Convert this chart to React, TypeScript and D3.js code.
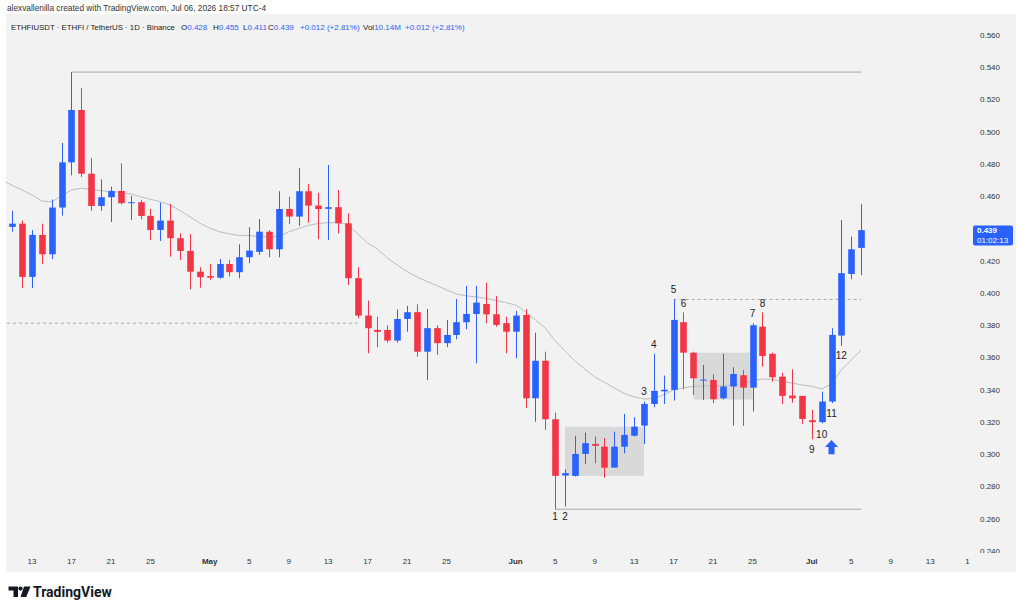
import React from "react";
import * as d3 from "d3";

// daily candles: date, open, high, low, close
const candles: [string, number, number, number, number][] = [
  ["04-11", 0.441, 0.451, 0.438, 0.443],
  ["04-12", 0.443, 0.445, 0.403, 0.41],
  ["04-13", 0.41, 0.439, 0.403, 0.436],
  ["04-14", 0.436, 0.443, 0.418, 0.424],
  ["04-15", 0.424, 0.458, 0.421, 0.453],
  ["04-16", 0.453, 0.493, 0.448, 0.481],
  ["04-17", 0.481, 0.537, 0.473, 0.5135],
  ["04-18", 0.5135, 0.527, 0.472, 0.474],
  ["04-19", 0.474, 0.4836, 0.451, 0.454],
  ["04-20", 0.454, 0.4705, 0.451, 0.4594],
  ["04-21", 0.4594, 0.466, 0.444, 0.4633],
  ["04-22", 0.4633, 0.4804, 0.455, 0.4557],
  ["04-23", 0.4557, 0.4602, 0.4453, 0.4563],
  ["04-24", 0.4563, 0.4577, 0.4457, 0.4478],
  ["04-25", 0.4478, 0.4521, 0.4329, 0.4391],
  ["04-26", 0.4391, 0.456, 0.4323, 0.4449],
  ["04-27", 0.4449, 0.4552, 0.4225, 0.434],
  ["04-28", 0.434, 0.437, 0.4205, 0.4261],
  ["04-29", 0.4261, 0.4364, 0.4023, 0.4132],
  ["04-30", 0.4132, 0.416, 0.4033, 0.4098],
  ["05-01", 0.4105, 0.418, 0.4081, 0.4095],
  ["05-02", 0.4095, 0.421, 0.4088, 0.418],
  ["05-03", 0.418, 0.4205, 0.4102, 0.4129],
  ["05-04", 0.4129, 0.4302, 0.4092, 0.4222],
  ["05-05", 0.4222, 0.4408, 0.4185, 0.4263],
  ["05-06", 0.4255, 0.4459, 0.4236, 0.438],
  ["05-07", 0.438, 0.439, 0.4222, 0.4271],
  ["05-08", 0.4271, 0.4631, 0.4222, 0.4521],
  ["05-09", 0.4521, 0.4597, 0.4428, 0.4474],
  ["05-10", 0.4474, 0.4774, 0.4416, 0.4631],
  ["05-11", 0.4631, 0.4676, 0.4436, 0.4542],
  ["05-12", 0.4542, 0.4622, 0.4333, 0.4521],
  ["05-13", 0.4522, 0.4794, 0.4329, 0.4532],
  ["05-14", 0.4532, 0.4639, 0.437, 0.4432],
  ["05-15", 0.4432, 0.4494, 0.405, 0.4092],
  ["05-16", 0.4092, 0.416, 0.3844, 0.386],
  ["05-17", 0.386, 0.3953, 0.3627, 0.3782],
  ["05-18", 0.3771, 0.3853, 0.3664, 0.3759],
  ["05-19", 0.3771, 0.38, 0.3692, 0.3705],
  ["05-20", 0.3705, 0.3899, 0.3692, 0.3839],
  ["05-21", 0.3839, 0.392, 0.376, 0.3881],
  ["05-22", 0.3881, 0.393, 0.3605, 0.3636],
  ["05-23", 0.3636, 0.3901, 0.346, 0.3782],
  ["05-24", 0.3782, 0.38, 0.3616, 0.3689],
  ["05-25", 0.3689, 0.3833, 0.3664, 0.374],
  ["05-26", 0.374, 0.3963, 0.3713, 0.3819],
  ["05-27", 0.3819, 0.4044, 0.3776, 0.387],
  ["05-28", 0.387, 0.4044, 0.3564, 0.394],
  ["05-29", 0.3932, 0.4064, 0.3813, 0.3868],
  ["05-30", 0.3868, 0.3982, 0.3791, 0.3802],
  ["05-31", 0.3813, 0.3853, 0.3627, 0.376],
  ["06-01", 0.376, 0.3889, 0.3596, 0.386],
  ["06-02", 0.3864, 0.39, 0.3286, 0.3347],
  ["06-03", 0.3347, 0.3754, 0.3202, 0.358],
  ["06-04", 0.358, 0.3636, 0.3151, 0.3217],
  ["06-05", 0.3217, 0.3258, 0.2659, 0.2866],
  ["06-06", 0.2868, 0.2907, 0.2676, 0.2883],
  ["06-07", 0.2866, 0.3114, 0.2862, 0.3002],
  ["06-08", 0.3002, 0.3134, 0.294, 0.3069],
  ["06-09", 0.3064, 0.311, 0.2944, 0.3052],
  ["06-10", 0.3047, 0.31, 0.2855, 0.2917],
  ["06-11", 0.2917, 0.314, 0.2917, 0.3047],
  ["06-12", 0.3047, 0.325, 0.3006, 0.312],
  ["06-13", 0.3115, 0.323, 0.311, 0.3171],
  ["06-14", 0.3178, 0.3327, 0.3064, 0.3312],
  ["06-15", 0.3312, 0.3623, 0.3292, 0.3393],
  ["06-16", 0.339, 0.3488, 0.3312, 0.34],
  ["06-17", 0.3399, 0.396, 0.3333, 0.3833],
  ["06-18", 0.3819, 0.388, 0.3403, 0.363],
  ["06-19", 0.363, 0.3636, 0.3368, 0.3471],
  ["06-20", 0.3457, 0.3554, 0.3337, 0.3463],
  ["06-21", 0.3461, 0.3496, 0.3317, 0.3341],
  ["06-22", 0.3347, 0.3623, 0.334, 0.342],
  ["06-23", 0.342, 0.354, 0.3178, 0.3498],
  ["06-24", 0.349, 0.3523, 0.3176, 0.3413],
  ["06-25", 0.3413, 0.3813, 0.3265, 0.38],
  ["06-26", 0.3791, 0.388, 0.3543, 0.361],
  ["06-27", 0.3623, 0.363, 0.345, 0.3478],
  ["06-28", 0.3481, 0.3506, 0.3312, 0.3362],
  ["06-29", 0.3364, 0.3527, 0.332, 0.3347],
  ["06-30", 0.3362, 0.3362, 0.3188, 0.3219],
  ["07-01", 0.3211, 0.3275, 0.3093, 0.3199],
  ["07-02", 0.3199, 0.3388, 0.3192, 0.3327],
  ["07-03", 0.3327, 0.3782, 0.3317, 0.374],
  ["07-04", 0.3736, 0.4453, 0.3672, 0.4123],
  ["07-05", 0.4118, 0.435, 0.4085, 0.4271],
  ["07-06", 0.428, 0.455, 0.411, 0.439],
];

// moving average line as drawn
const maLine: [string, number][] = [
  ["04-10", 0.4701], ["04-11", 0.4667], ["04-12", 0.4639], ["04-13", 0.4608],
  ["04-14", 0.4571], ["04-15", 0.4565], ["04-16", 0.4602], ["04-17", 0.4639],
  ["04-18", 0.465], ["04-19", 0.4643], ["04-20", 0.4635], ["04-21", 0.4628],
  ["04-22", 0.4625], ["04-23", 0.4614], ["04-24", 0.4597], ["04-25", 0.4581],
  ["04-26", 0.4566], ["04-27", 0.4546], ["04-28", 0.4511], ["04-29", 0.4473],
  ["04-30", 0.4433], ["05-01", 0.4402], ["05-02", 0.438], ["05-03", 0.4366],
  ["05-04", 0.4357], ["05-05", 0.4357], ["05-06", 0.4349], ["05-07", 0.4349],
  ["05-08", 0.4349], ["05-09", 0.4379], ["05-10", 0.44], ["05-11", 0.4419],
  ["05-12", 0.4431], ["05-13", 0.4436], ["05-14", 0.4436], ["05-15", 0.4425],
  ["05-16", 0.4366], ["05-17", 0.431], ["05-18", 0.4273], ["05-19", 0.4217],
  ["05-20", 0.4174], ["05-21", 0.4132], ["05-22", 0.41], ["05-23", 0.4072],
  ["05-24", 0.4047], ["05-25", 0.4019], ["05-26", 0.3994], ["05-27", 0.3982],
  ["05-28", 0.3976], ["05-29", 0.3966], ["05-30", 0.3954], ["05-31", 0.394],
  ["06-01", 0.3926], ["06-02", 0.3883], ["06-03", 0.3833], ["06-04", 0.3783],
  ["06-05", 0.3703], ["06-06", 0.3641], ["06-07", 0.3579], ["06-08", 0.3529],
  ["06-09", 0.348], ["06-10", 0.3446], ["06-11", 0.3411], ["06-12", 0.3377],
  ["06-13", 0.3356], ["06-14", 0.3343], ["06-15", 0.3345], ["06-16", 0.3368],
  ["06-17", 0.3399], ["06-18", 0.3411], ["06-19", 0.3421], ["06-20", 0.3424],
  ["06-21", 0.3424], ["06-22", 0.3424], ["06-23", 0.343], ["06-24", 0.3439],
  ["06-25", 0.3455], ["06-26", 0.3467], ["06-27", 0.3464], ["06-28", 0.3452],
  ["06-29", 0.3442], ["06-30", 0.343], ["07-01", 0.3421], ["07-02", 0.3405],
  ["07-03", 0.3436], ["07-04", 0.3523], ["07-05", 0.3585], ["07-06", 0.3647],
];

const priceTicks = [0.56, 0.54, 0.52, 0.5, 0.48, 0.46, 0.42, 0.4, 0.38, 0.36, 0.34, 0.32, 0.3, 0.28, 0.26, 0.24];
const timeTicks = [
  "04-13", "04-17", "04-21", "04-25", "05-01", "05-05", "05-09", "05-13", "05-17", "05-21", "05-25",
  "06-01", "06-05", "06-09", "06-13", "06-17", "06-21", "06-25", "07-01", "07-05", "07-09", "07-13", "07-17",
];

// numbered swing labels: date, price, text
const waveLabels: [string, number, string][] = [
  ["06-05", 0.2612, "1"], ["06-06", 0.2612, "2"], ["06-14", 0.3388, "3"], ["06-15", 0.3678, "4"],
  ["06-17", 0.4019, "5"], ["06-18", 0.3937, "6"], ["06-25", 0.3874, "7"], ["06-26", 0.3937, "8"],
  ["07-01", 0.3027, "9"], ["07-02", 0.3122, "10"], ["07-03", 0.325, "11"], ["07-04", 0.361, "12"],
];

const boxes: [string, string, number, number][] = [
  ["06-06", "06-14", 0.317, 0.2866],
  ["06-19", "06-25", 0.363, 0.334],
];
const solidLevels: [string, string, number][] = [
  ["04-17", "07-06", 0.537],
  ["06-05", "07-06", 0.2659],
];
const dashedLevels: [string, string, number][] = [
  ["04-05", "05-16", 0.3813],
  ["06-17", "07-06", 0.396],
];
const arrowMark: [string, number, number] = ["07-03", 0.3089, 0.3];
const lastPrice = 0.439;
const countdown = "01:02:13";

const headerSegments: [number, string, string][] = [
  [11, "ETHFIUSDT · ETHFI / TetherUS · 1D · Binance", ""],
  [181, "O", "0.428"],
  [213, "H", "0.455"],
  [243, "L", "0.411"],
  [268, "C", "0.439"],
  [300, "", "+0.012 (+2.81%)"],
  [363, "Vol", "10.14M"],
  [405, "", "+0.012 (+2.81%)"],
];

const UP = "#2962ff";
const DOWN = "#f23645";
const FONT = "'Liberation Sans', Arial, sans-serif";
const parse = (s: string) => d3.utcParse("%Y-%m-%d")("2026-" + s) as Date;
const months = ["Jan", "Feb", "Mar", "Apr", "May", "Jun", "Jul", "Aug", "Sep", "Oct", "Nov", "Dec"];

export default function App() {
  const paneL = 6, paneR = 972, paneT = 14, paneB = 553;
  const x = d3.scaleUtc().domain([parse("04-13"), parse("07-17")]).range([32, 969.7]);
  const y = d3.scaleLinear().domain([0.24, 0.56]).range([551, 35]);
  const bw = 6.6;

  const ma = d3
    .line<[string, number]>()
    .x((d) => x(parse(d[0])))
    .y((d) => y(d[1]));

  const [ad, atop, abot] = arrowMark;
  const ax = x(parse(ad));
  const ay0 = y(atop), ay1 = y(abot);
  const arrowPath = `M${ax},${ay0} L${ax + 6.5},${ay0 + 7} L${ax + 3},${ay0 + 7} L${ax + 3},${ay1} L${ax - 3},${ay1} L${ax - 3},${ay0 + 7} L${ax - 6.5},${ay0 + 7} Z`;

  return (
    <svg width={1024} height={612} style={{ position: "absolute", left: 0, top: 0, background: "#fff" }} fontFamily={FONT}>
      <defs>
        <clipPath id="pane"><rect x={paneL} y={paneT} width={paneR - paneL} height={paneB - paneT} /></clipPath>
        <clipPath id="taxis"><rect x={paneL} y={paneB} width={970 - paneL} height={20} /></clipPath>
        <clipPath id="paxis"><rect x={paneR} y={paneT} width={50} height={paneB - paneT} /></clipPath>
      </defs>
      <text x={7} y={11} fontSize={8.3} fill="#333">alexvallenilla created with TradingView.com, Jul 06, 2026 18:57 UTC-4</text>
      <rect x={paneL} y={paneT} width={1010} height={558} fill="#f2f2f2" />

      {headerSegments.map(([hx, label, val], i) => (
        <text key={i} x={hx} y={30} fontSize={i === 0 ? 7.8 : 8} fill="#222">
          {label}
          {val && <tspan fill={UP}>{val}</tspan>}
        </text>
      ))}

      <g clipPath="url(#pane)">
        {boxes.map(([d0, d1, p0, p1], i) => (
          <rect key={i} x={x(parse(d0))} y={y(p0)} width={x(parse(d1)) - x(parse(d0))} height={y(p1) - y(p0)} fill="#9e9e9e" opacity={0.3} />
        ))}
        {solidLevels.map(([d0, d1, p], i) => (
          <line key={i} x1={x(parse(d0))} x2={x(parse(d1))} y1={y(p)} y2={y(p)} stroke="#a8a8a8" strokeWidth={1} />
        ))}
        {dashedLevels.map(([d0, d1, p], i) => (
          <line key={i} x1={x(parse(d0))} x2={x(parse(d1))} y1={y(p)} y2={y(p)} stroke="#a8a8a8" strokeWidth={1} strokeDasharray="3,3" />
        ))}
        <path d={ma(maLine) ?? ""} fill="none" stroke="#bdbdbd" strokeWidth={1} />
        {candles.map(([d, o, h, l, c]) => {
          const cx = Math.round(x(parse(d))) + 0.5;
          const col = c >= o ? UP : DOWN;
          const top = y(Math.max(o, c));
          const bh = Math.max(1, y(Math.min(o, c)) - top);
          return (
            <g key={d}>
              <line x1={cx} x2={cx} y1={y(h)} y2={y(l)} stroke={col} strokeWidth={1} />
              <rect x={cx - bw / 2} y={top} width={bw} height={bh} fill={col} />
            </g>
          );
        })}
        {waveLabels.map(([d, p, t], i) => (
          <text key={i} x={x(parse(d))} y={y(p)} dy="0.35em" textAnchor="middle" fontSize={10} fill="#222">{t}</text>
        ))}
        <path d={arrowPath} fill={UP} />
      </g>

      <g clipPath="url(#paxis)">
        {priceTicks.map((p) => (
          <text key={p} x={990} y={y(p)} dy="0.35em" textAnchor="middle" fontSize={8} fill="#333">{p.toFixed(3)}</text>
        ))}
      </g>
      <rect x={973} y={y(lastPrice) - 4.5} width={40} height={20} rx={2} fill={UP} />
      <text x={977} y={y(lastPrice) + 3} fontSize={8} fontWeight="bold" fill="#fff">{lastPrice.toFixed(3)}</text>
      <text x={977} y={y(lastPrice) + 12.5} fontSize={8} fill="#fff">{countdown}</text>

      <g clipPath="url(#taxis)">
        {timeTicks.map((t) => {
          const dt = parse(t);
          const first = dt.getUTCDate() === 1;
          return (
            <text key={t} x={x(dt)} y={564} textAnchor="middle" fontSize={8} fontWeight={first ? "bold" : "normal"} fill="#333">
              {first ? months[dt.getUTCMonth()] : dt.getUTCDate()}
            </text>
          );
        })}
      </g>

      <g fill="#131722">
        <path d="M8.5,586.5 h9.5 v10.5 h-4.5 v-6.5 h-5 z" />
        <circle cx={20.5} cy={588.6} r={2.1} />
        <path d="M24,586.5 h6.5 l-4.3,10.5 h-5.6 z" />
        <text x={33} y={597} fontSize={14} fontWeight="bold" fontFamily="Roboto, 'Liberation Sans', Arial, sans-serif">TradingView</text>
      </g>
    </svg>
  );
}
